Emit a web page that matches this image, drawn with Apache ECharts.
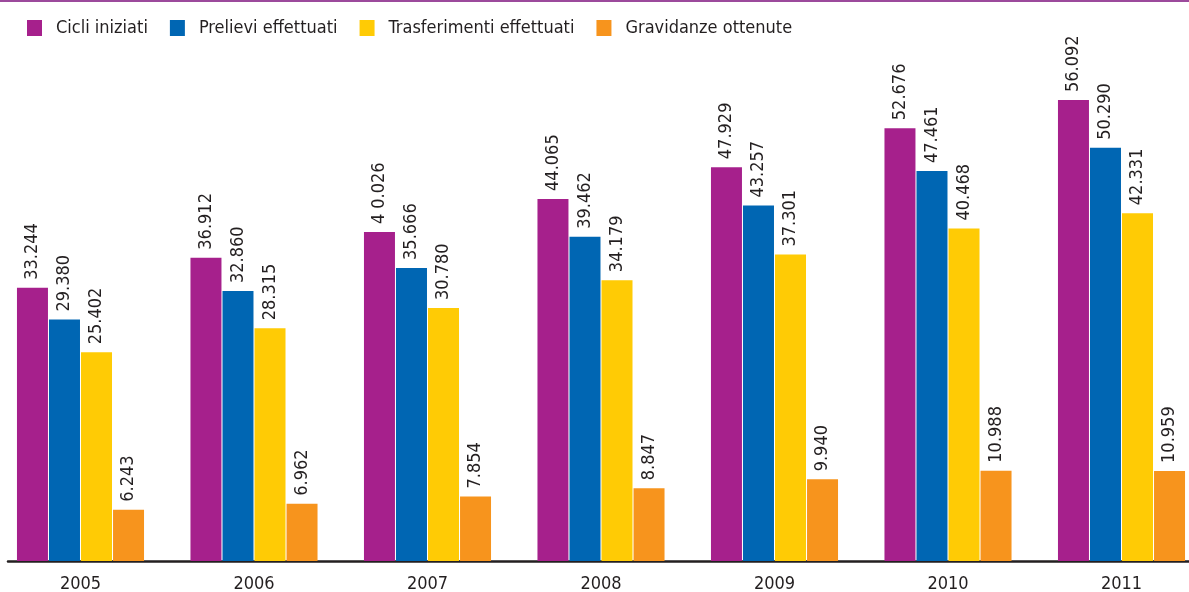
<!DOCTYPE html>
<html>
<head>
<meta charset="utf-8">
<script src="https://cdn.jsdelivr.net/npm/echarts@6/dist/echarts.min.js"></script>
<style>
html,body{margin:0;padding:0;background:#fff;}
#chart{width:1189px;height:592px;}
</style>
</head>
<body>
<div id="chart"></div>
<script>
const years = ['2005','2006','2007','2008','2009','2010','2011'];
const seriesNames = ['Cicli iniziati','Prelievi effettuati','Trasferimenti effettuati','Gravidanze ottenute'];
const cicliIniziati = [33244, 36912, 40026, 44065, 47929, 52676, 56092];
const prelieviEffettuati = [29380, 32860, 35666, 39462, 43257, 47461, 50290];
const trasferimentiEffettuati = [25402, 28315, 30780, 34179, 37301, 40468, 42331];
const gravidanzeOttenute = [6243, 6962, 7854, 8847, 9940, 10988, 10959];
// label text as printed in the source (one label has a stray space)
const labelOverrides = {'0_2': '4 0.026'};

const colors = ['#A6208C', '#0066B3', '#FFCB05', '#F7941D'];
const FONT = "'DejaVu Sans Condensed', 'Liberation Sans Narrow', sans-serif";
const TXT = '#231F20';

function fmt(v) {
  return String(v).replace(/\B(?=(\d{3})+(?!\d))/g, '.');
}

const allData = [cicliIniziati, prelieviEffettuati, trasferimentiEffettuati, gravidanzeOttenute];

const chart = echarts.init(document.getElementById('chart'), null, {renderer: 'canvas'});
chart.setOption({
  animation: false,
  color: colors,
  graphic: [{
    type: 'rect', left: 0, top: 0,
    shape: {width: 1189, height: 2},
    style: {fill: '#9C4A9C'}
  }],
  legend: {
    left: 27, top: 19, padding: 0,
    itemWidth: 15, itemHeight: 16, itemGap: 22,
    icon: 'rect',
    textStyle: {fontFamily: FONT, fontSize: 18, color: TXT, padding: [0, 0, 0, 9]},
    data: seriesNames
  },
  grid: [
    {left: -6.25, width: 1214.5, top: 68, bottom: 31, outerBoundsMode: 'none', containLabel: false},
    {left: 8, right: 0, top: 68, bottom: 31, outerBoundsMode: 'none', containLabel: false}
  ],
  xAxis: [{
    type: 'category', data: years, gridIndex: 0,
    axisLine: {show: false},
    axisTick: {show: false},
    axisLabel: {fontFamily: FONT, fontSize: 18, color: TXT, margin: 14}
  }, {
    type: 'value', gridIndex: 1, min: 0, max: 1,
    axisLine: {show: true, onZero: false, lineStyle: {color: '#231F20', width: 2.5}},
    axisTick: {show: false}, axisLabel: {show: false}, splitLine: {show: false}
  }],
  yAxis: [{
    type: 'value', gridIndex: 0, min: 0, max: 60000,
    show: false, splitLine: {show: false}
  }, {
    type: 'value', gridIndex: 1, min: 0, max: 1, show: false
  }],
  series: seriesNames.map((name, si) => ({
    name, type: 'bar', xAxisIndex: 0, yAxisIndex: 0,
    data: allData[si],
    barWidth: 31, barGap: '3.3%',
    itemStyle: {color: colors[si]},
    label: {
      show: true, position: 'top', rotate: 90, align: 'left', verticalAlign: 'middle',
      distance: 8,
      fontFamily: FONT, fontSize: 18, color: TXT,
      formatter: p => labelOverrides[si + '_' + p.dataIndex] || fmt(p.value)
    }
  }))
});
</script>
</body>
</html>
